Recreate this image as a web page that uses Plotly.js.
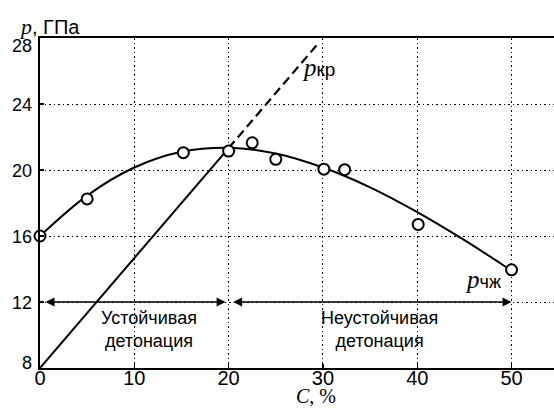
<!DOCTYPE html>
<html>
<head>
<meta charset="utf-8">
<script src="https://cdn.plot.ly/plotly-3.0.1.min.js"></script>
<style>
  html, body { margin: 0; padding: 0; background: #fff; }
  #chart { width: 554px; height: 408px; }
</style>
</head>
<body>
<div id="chart"></div>
<script>
// Measured detonation pressure vs. additive content
const concC = [0, 5, 15.2, 20, 22.5, 25, 30.1, 32.3, 40.1, 50];
const pressP = [16.0, 18.25, 21.05, 21.15, 21.65, 20.65, 20.05, 20.02, 16.7, 13.95];

// Smoothed Chapman–Jouguet pressure curve (p_ЧЖ)
const fitC = [0, 5, 10, 15, 20, 25, 30, 35, 40, 45, 50];
const fitP = [16.0, 18.45, 20.15, 21.1, 21.35, 21.0, 20.15, 18.95, 17.45, 15.75, 13.9];

// Critical pressure line (p_кр): solid part and dashed extension
const critC = [0, 20];
const critP = [8, 21.33];
const critExtC = [20, 29.5];
const critExtP = [21.33, 27.67];

// Detonation regimes along the C axis
const zoneEdges = [0, 20, 50];
const zoneLevel = 12;
const zoneNames = ['Устойчивая<br>детонация', 'Неустойчивая<br>детонация'];

const xTicks = [0, 10, 20, 30, 40, 50];
const yTicks = [8, 12, 16, 20, 24, 28];

const SANS = 'Liberation Sans, Arial, sans-serif';
const SERIF = 'Liberation Serif, Times New Roman, serif';

const traces = [
  {
    x: critC, y: critP, mode: 'lines', type: 'scatter',
    line: { color: '#000', width: 2 }, hoverinfo: 'skip'
  },
  {
    x: critExtC, y: critExtP, mode: 'lines', type: 'scatter',
    line: { color: '#000', width: 2.2, dash: '9px,5px' }, hoverinfo: 'skip'
  },
  {
    x: fitC, y: fitP, mode: 'lines', type: 'scatter',
    line: { color: '#000', width: 2, shape: 'spline', smoothing: 1 }, hoverinfo: 'skip'
  },
  {
    x: concC, y: pressP, mode: 'markers', type: 'scatter',
    marker: { symbol: 'circle', size: 11, color: '#fff', line: { color: '#000', width: 2 } },
    cliponaxis: false
  }
];

// y tick labels sit a little off their grid lines at the ends of the axis
function yLabelShift(v) {
  if (v === yTicks[yTicks.length - 1]) return -8;
  if (v === yTicks[0]) return 5;
  return -1;
}

const annotations = [
  // zone arrows
  {
    x: zoneEdges[1], y: zoneLevel, ax: zoneEdges[0], ay: zoneLevel,
    xref: 'x', yref: 'y', axref: 'x', ayref: 'y', text: '',
    showarrow: true, arrowside: 'end+start', arrowhead: 2, arrowsize: 1.2,
    arrowwidth: 1.5, arrowcolor: '#000', standoff: 3, startstandoff: 4
  },
  {
    x: zoneEdges[2], y: zoneLevel, ax: zoneEdges[1], ay: zoneLevel,
    xref: 'x', yref: 'y', axref: 'x', ayref: 'y', text: '',
    showarrow: true, arrowside: 'end+start', arrowhead: 2, arrowsize: 1.2,
    arrowwidth: 1.5, arrowcolor: '#000', standoff: 0, startstandoff: 3
  },
  // zone captions
  {
    x: 11.6, y: 10.35, xref: 'x', yref: 'y', text: zoneNames[0], showarrow: false,
    font: { family: SANS, size: 18, color: '#000' }, align: 'center'
  },
  {
    x: 36.0, y: 10.35, xref: 'x', yref: 'y', text: zoneNames[1], showarrow: false,
    font: { family: SANS, size: 18, color: '#000' }, align: 'center'
  },
  // curve labels
  {
    x: 27.6, y: 26.2, xref: 'x', yref: 'y', xanchor: 'left', showarrow: false,
    text: '<i>p</i><span style="font-family:' + SANS + ';font-size:19px">кр</span>',
    font: { family: SERIF, size: 25, color: '#000' }
  },
  {
    x: 44.85, y: 13.35, xref: 'x', yref: 'y', xanchor: 'left', showarrow: false,
    text: '<i>p</i><span style="font-family:' + SANS + ';font-size:18px">чж</span>',
    font: { family: SERIF, size: 25, color: '#000' }
  },
  // axis titles
  {
    x: -0.045, y: 1.035, xref: 'paper', yref: 'paper', xanchor: 'left', yanchor: 'middle',
    showarrow: false,
    text: '<i>p</i><span style="font-family:' + SANS + ';font-size:20px">, ГПа</span>',
    font: { family: SERIF, size: 22, color: '#000' }
  },
  {
    x: 29.3, y: -40 / 330, xref: 'x', yref: 'paper', yanchor: 'bottom', showarrow: false,
    borderpad: 0,
    text: '<i>C</i>, %',
    font: { family: SERIF, size: 20, color: '#000' }
  }
].concat(yTicks.map(v => ({
  x: -0.012, y: v, xref: 'paper', yref: 'y', xanchor: 'right', yanchor: 'middle',
  yshift: yLabelShift(v), showarrow: false, text: String(v),
  font: { family: SANS, size: 18, color: '#000' }
})));

const layout = {
  width: 554, height: 408,
  margin: { l: 40, r: 0, t: 38, b: 40, pad: 0 },
  paper_bgcolor: '#fff', plot_bgcolor: '#fff',
  showlegend: false,
  xaxis: {
    range: [0, 54.5], tickvals: xTicks, ticktext: xTicks.map(String),
    showline: true, linecolor: '#000', linewidth: 2, mirror: true,
    ticks: 'inside', ticklen: 4, tickcolor: '#000', tickwidth: 1.5,
    showgrid: true, gridcolor: '#000', gridwidth: 1, griddash: '1.5px,3px',
    zeroline: false, tickfont: { family: SANS, size: 20, color: '#000' },
    ticklabelstandoff: -9,
    fixedrange: true
  },
  yaxis: {
    range: [8, 28], tickvals: yTicks, showticklabels: false,
    showline: true, linecolor: '#000', linewidth: 2,
    ticks: 'inside', ticklen: 4, tickcolor: '#000', tickwidth: 1.5,
    showgrid: true, gridcolor: '#000', gridwidth: 1, griddash: '1.5px,3px',
    zeroline: false,
    fixedrange: true
  },
  annotations: annotations
};

Plotly.newPlot('chart', traces, layout, { staticPlot: true, displayModeBar: false });
</script>
</body>
</html>
